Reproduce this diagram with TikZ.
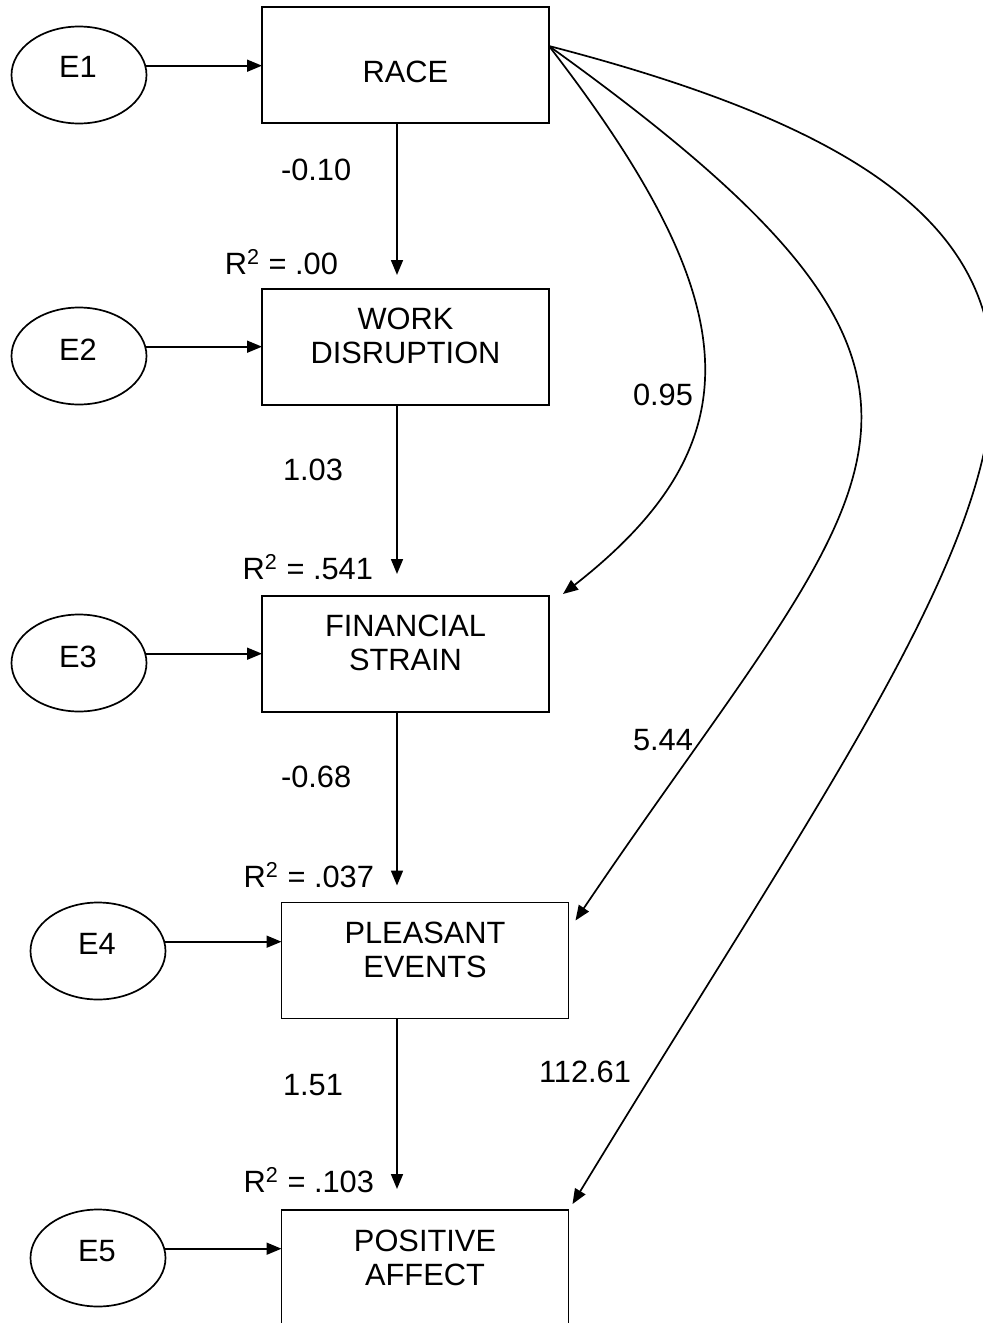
\documentclass[tikz,border=0pt]{standalone}
\usepackage{fontspec}
\setmainfont{Liberation Sans}
\usepackage{tikz}
\usetikzlibrary{calc,arrows.meta,shapes.geometric,positioning}

\begin{document}
\begin{tikzpicture}[x=0.5pt,y=-0.5pt,
    every node/.style={font=\fontsize{15.4}{17}\selectfont, inner sep=0pt, outer sep=0pt},
    varbox/.style={draw, line width=0.9pt, minimum width=143.5pt, minimum height=58pt},
    errell/.style={draw, ellipse, line width=0.85pt, minimum width=67.5pt, minimum height=48.5pt},
    link/.style={line width=0.85pt, -{Triangle[length=7.5pt,width=6pt]}}]
  \useasboundingbox (0,0) rectangle (983,1323);

  % error terms E1..E5
  \node[errell] (e1) at (79,75) {};
  \node[errell] (e2) at (79,356) {};
  \node[errell] (e3) at (79,663) {};
  \node[errell] (e4) at (98,951) {};
  \node[errell] (e5) at (98,1258) {};
  \node (e1-l) at (78,67) {E1};
  \node (e2-l) at (78,350) {E2};
  \node (e3-l) at (78,657) {E3};
  \node (e4-l) at (97,944) {E4};
  \node (e5-l) at (97,1251) {E5};

  % the five measured variables
  \node[varbox] (race) at (405.5,65) {};
  \node[varbox] (work) at (405.5,347) {};
  \node[varbox] (fin) at (405.5,654) {};
  \node[varbox] (pleas) at (425,960.5) {};
  \node[varbox] (posaff) at (425,1268) {};
  \node (race-l) at (405.5,72) {RACE};
  \node[align=center] (work-l) at (405.5,336) {WORK\\DISRUPTION};
  \node[align=center] (fin-l) at (405.5,643) {FINANCIAL\\STRAIN};
  \node[align=center] (pleas-l) at (425,950) {PLEASANT\\EVENTS};
  \node[align=center] (posaff-l) at (425,1258) {POSITIVE\\AFFECT};

  % error terms into their variables
  \draw[link] (e1.8) -- (e1.8 -| race.west);
  \draw[link] (e2.8) -- (e2.8 -| work.west);
  \draw[link] (e3.8) -- (e3.8 -| fin.west);
  \draw[link] (e4.8) -- (e4.8 -| pleas.west);
  \draw[link] (e5.8) -- (e5.8 -| posaff.west);

  % the chain down the middle
  \draw[link] ($(race.south)+(-8.5,0)$) -- ($(work.north)+(-8.5,-14)$);
  \draw[link] ($(work.south)+(-8.5,0)$) -- ($(fin.north)+(-8.5,-22)$);
  \draw[link] ($(fin.south)+(-8.5,0)$) -- ($(pleas.north)+(-28,-17)$);
  \draw[link] ($(pleas.south)+(-28,0)$) -- ($(posaff.north)+(-28,-21)$);

  % direct effects of race
  \coordinate (rout) at ($(race.east)+(0,-19)$);
  \draw[link] (rout) .. controls (745,300) and (760,440) .. ($(fin.north east)+(14,-2)$);
  \draw[link] (rout) .. controls (1035,395) and (880,470) .. ($(pleas.north east)+(7,18)$);
  \draw[link] (rout) .. controls (1260,230) and (1000,500) .. ($(posaff.north east)+(4,-6)$);

  % coefficients
  \node[anchor=west] (b1) at (281,170) {-0.10};
  \node[anchor=west] (b2) at (283,470) {1.03};
  \node[anchor=west] (b3) at (281,777) {-0.68};
  \node[anchor=west] (b4) at (283,1085) {1.51};
  \node (b5) at (663,395) {0.95};
  \node (b6) at (663,740) {5.44};
  \node (b7) at (585,1072) {112.61};

  % explained variance
  \node[anchor=east] (r1) at (338,262) {R\textsuperscript{2} = .00};
  \node[anchor=east] (r2) at (373,567) {R\textsuperscript{2} = .541};
  \node[anchor=east] (r3) at (374,875) {R\textsuperscript{2} = .037};
  \node[anchor=east] (r4) at (374,1180) {R\textsuperscript{2} = .103};
\end{tikzpicture}
\end{document}
